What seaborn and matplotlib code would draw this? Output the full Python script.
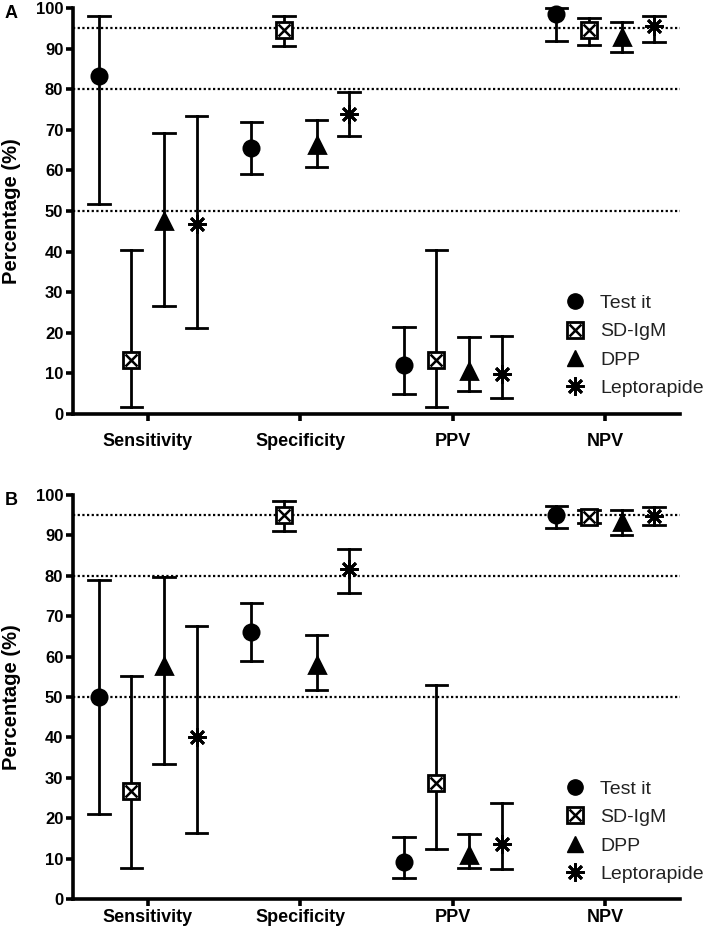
import numpy as np
import pandas as pd
import matplotlib
matplotlib.use("Agg")
import matplotlib.pyplot as plt
import seaborn as sns
from matplotlib.lines import Line2D

measures = ["Sensitivity", "Specificity", "PPV", "NPV"]
tests = ["Test it", "SD-IgM", "DPP", "Leptorapide"]
ref_lines = [50, 80, 95]
y_ticks = list(range(0, 101, 10))

# panel A - one row per test, one column per measure
a_val = [[83.3, 65.5, 12.0, 98.5],
         [13.3, 94.6, 13.3, 94.5],
         [47.6, 66.2, 10.5, 92.9],
         [46.7, 73.9, 9.8, 95.6]]
a_lo = [[51.6, 59.0, 5.0, 91.8],
        [1.7, 90.6, 1.7, 90.8],
        [26.6, 60.8, 5.6, 89.1],
        [21.2, 68.5, 4.0, 91.6]]
a_hi = [[97.9, 71.8, 21.3, 99.9],
        [40.5, 98.0, 40.5, 97.5],
        [69.3, 72.3, 19.0, 96.5],
        [73.3, 79.3, 19.2, 98.0]]

# panel B
b_val = [[50.0, 66.2, 9.1, 95.0],
         [26.7, 95.0, 28.6, 94.6],
         [57.7, 58.0, 10.8, 93.4],
         [40.0, 81.7, 13.7, 94.9]]
b_lo = [[21.0, 59.0, 5.1, 91.8],
        [7.8, 91.1, 12.5, 93.0],
        [33.5, 51.7, 7.8, 90.2],
        [16.3, 75.8, 7.4, 92.6]]
b_hi = [[79.0, 73.4, 15.4, 97.3],
        [55.1, 98.5, 53.0, 96.2],
        [79.8, 65.3, 16.1, 96.4],
        [67.6, 86.6, 23.8, 97.0]]

markers = ["o", "s", "^", (8, 2, 0)]

plt.rcParams["font.family"] = ["Liberation Sans", "DejaVu Sans"]


def long_table(val, lo, hi):
    # three rows per point: lower limit, estimate, upper limit
    rows = []
    for i, t in enumerate(tests):
        for j, m in enumerate(measures):
            for v in (lo[i][j], val[i][j], hi[i][j]):
                rows.append({"measure": m, "test": t, "pct": v})
    return pd.DataFrame(rows)


def ci_range(v):
    return v.min(), v.max()


def draw_panel(ax, val, lo, hi, letter, xpad):
    df = long_table(val, lo, hi)
    sns.pointplot(data=df, x="measure", y="pct", hue="test",
                  order=measures, hue_order=tests, palette=["black"] * 4,
                  markers=markers, linestyles="none", dodge=0.64,
                  estimator="median", errorbar=ci_range, capsize=0.14,
                  err_kws={"linewidth": 2}, markersize=11, markeredgewidth=2,
                  legend=False, ax=ax)

    for ln in list(ax.lines):
        mk = ln.get_marker()
        ln.set_clip_on(False)
        if isinstance(mk, str) and mk in ("None", "none", ""):
            continue
        ln.set_zorder(3)
        if mk == "s":
            ln.set_markerfacecolor("white")
            ln.set_markersize(12)
            ax.plot(ln.get_xdata(), ln.get_ydata(), ls="none", marker="x",
                    ms=8, mew=1.8, color="black", zorder=4, clip_on=False)
        elif mk == "^":
            ln.set_markersize(12)
        elif mk != "o":
            ln.set_markersize(13)

    for y in ref_lines:
        ax.axhline(y, color="black", ls=(0, (1, 1.1)), lw=1.6, zorder=1)

    ax.set_xlim(-0.49, 3.49)
    ax.set_ylim(0, 100)
    ax.set_yticks(y_ticks)
    sns.despine(ax=ax)
    for s in ("left", "bottom"):
        ax.spines[s].set_linewidth(2.6)
    ax.tick_params(width=2.6, length=5, labelsize=12)
    ax.tick_params(axis="x", pad=xpad, labelsize=13)
    ax.tick_params(axis="y", pad=2)
    for lab in ax.get_xticklabels() + ax.get_yticklabels():
        lab.set_fontweight("bold")
    ax.set_xlabel("")
    ax.set_ylabel("Percentage (%)", fontsize=14.5, fontweight="bold")
    ax.yaxis.set_label_coords(-0.086, 0.5)
    ax.text(-0.112, 0.975, letter, transform=ax.transAxes, fontsize=13,
            fontweight="bold", va="baseline")

    handles = [
        Line2D([], [], ls="none", marker="o", ms=11, color="black"),
        (Line2D([], [], ls="none", marker="s", ms=12, mfc="white", mec="black", mew=2),
         Line2D([], [], ls="none", marker="x", ms=8, mew=1.8, color="black")),
        Line2D([], [], ls="none", marker="^", ms=12, color="black"),
        Line2D([], [], ls="none", marker=(8, 2, 0), ms=13, mew=2, color="black"),
    ]
    ax.legend(handles, tests, loc="upper left", bbox_to_anchor=(0.795, 0.318),
              frameon=False, fontsize=14, handlelength=1.0, handletextpad=0.8,
              labelspacing=0.55, borderpad=0, labelcolor="#222222")


fig = plt.figure(figsize=(7.17, 9.33), dpi=100)
ax_a = fig.add_axes([0.1018, 0.5563, 0.8466, 0.4352])
ax_b = fig.add_axes([0.1018, 0.0364, 0.8466, 0.4330])

draw_panel(ax_a, a_val, a_lo, a_hi, "A", 9)
draw_panel(ax_b, b_val, b_lo, b_hi, "B", 2)

fig.savefig("out.png", dpi=100)
